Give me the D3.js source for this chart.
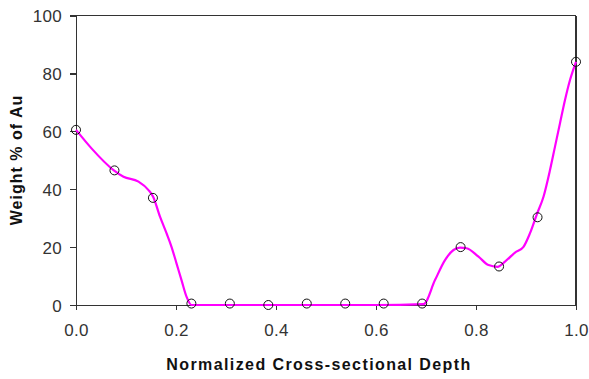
<!DOCTYPE html>
<html>
<head>
<meta charset="utf-8">
<script src="https://cdn.jsdelivr.net/npm/d3@7"></script>
<style>
  html, body { margin: 0; padding: 0; background: #fff; }
  svg { display: block; }
</style>
</head>
<body>
<svg id="chart" width="589" height="379"></svg>
<script>
// Measured composition points (depth is normalized, 14 evenly spaced samples)
const depth = [0, 1/13, 2/13, 3/13, 4/13, 5/13, 6/13, 7/13, 8/13, 9/13, 10/13, 11/13, 12/13, 1];
const weightAu = [60.5, 46.5, 37, 0.5, 0.5, 0, 0.5, 0.5, 0.5, 0.5, 20, 13.3, 30.3, 84];

// Continuous profile trace
const profileDepth = [0, 0.031, 0.075, 0.095, 0.125, 0.145, 0.154, 0.168, 0.181, 0.191, 0.201, 0.211, 0.221, 0.231,
  0.30, 0.40, 0.50, 0.60, 0.695, 0.718, 0.738, 0.755, 0.768, 0.781, 0.805, 0.825, 0.843, 0.858, 0.878, 0.895,
  0.908, 0.922, 0.935, 0.948, 0.958, 0.968, 0.978, 0.988, 1.0];
const profileAu = [60.5, 54.1, 46.6, 44.3, 42.6, 39.7, 37.5, 30.5, 24.8, 20.1, 14.4, 8.6, 2.9, 0,
  0, 0, 0, 0, 0.3, 8.6, 15.5, 19.0, 19.8, 19.6, 16.7, 13.8, 13.2, 15.0, 18.1, 20.1,
  24.8, 31.5, 37.4, 46.6, 54.7, 62.8, 70.8, 77.7, 84.0];

const xTicks = [0, 0.2, 0.4, 0.6, 0.8, 1.0];
const yTicks = [0, 20, 40, 60, 80, 100];

const svg = d3.select("#chart");
const plotLeft = 76, plotRight = 576, plotTop = 15.5, plotBottom = 305;

const x = d3.scaleLinear().domain([0, 1]).range([plotLeft, plotRight]);
const y = d3.scaleLinear().domain([0, 100]).range([plotBottom, plotTop]);

const axisColor = "#333";
const labelFont = "Liberation Sans, Arial, sans-serif";

// Frame: top and right borders
svg.append("line").attr("x1", plotLeft).attr("x2", plotRight).attr("y1", plotTop).attr("y2", plotTop)
  .attr("stroke", axisColor).attr("stroke-width", 1.2).attr("shape-rendering", "crispEdges");
svg.append("line").attr("x1", plotRight).attr("x2", plotRight).attr("y1", plotTop).attr("y2", plotBottom)
  .attr("stroke", axisColor).attr("stroke-width", 1.2).attr("shape-rendering", "crispEdges");

// X axis
const gx = svg.append("g").attr("transform", `translate(0,${plotBottom})`)
  .call(d3.axisBottom(x).tickValues(xTicks).tickFormat(d3.format(".1f")).tickSize(5).tickSizeOuter(0).tickPadding(14));
// Y axis
const gy = svg.append("g").attr("transform", `translate(${plotLeft},0)`)
  .call(d3.axisLeft(y).tickValues(yTicks).tickFormat(d3.format("d")).tickSize(6).tickSizeOuter(0).tickPadding(8));

[gx, gy].forEach(g => {
  g.select(".domain").attr("stroke", axisColor).attr("stroke-width", 1.2).attr("shape-rendering", "crispEdges");
  g.selectAll(".tick line").attr("stroke", axisColor).attr("stroke-width", 1.2).attr("shape-rendering", "crispEdges");
  g.selectAll(".tick text").attr("fill", "#333").attr("font-family", labelFont)
    .attr("font-size", 17).style("letter-spacing", "0.3px");
});
gy.selectAll(".tick text").attr("dy", "0.36em");

// Profile line
const line = d3.line().x((d, i) => x(profileDepth[i])).y(d => y(d)).curve(d3.curveMonotoneX);
svg.append("path").datum(profileAu).attr("d", line)
  .attr("fill", "none").attr("stroke", "#ff00ff").attr("stroke-width", 2.2)
  .attr("stroke-linejoin", "round");

// Measured points
svg.append("g").selectAll("circle").data(weightAu).join("circle")
  .attr("cx", (d, i) => x(depth[i])).attr("cy", d => y(d)).attr("r", 4.5)
  .attr("fill", "none").attr("stroke", "#111").attr("stroke-width", 1);

// Axis titles
svg.append("text").attr("x", 319).attr("y", 370).attr("text-anchor", "middle")
  .attr("font-family", labelFont).attr("font-weight", "bold").attr("font-size", 16)
  .style("letter-spacing", "1.4px").attr("fill", "#111")
  .text("Normalized Cross-sectional Depth");
svg.append("text").attr("transform", "translate(22,160) rotate(-90)").attr("text-anchor", "middle")
  .attr("font-family", labelFont).attr("font-weight", "bold").attr("font-size", 16)
  .style("letter-spacing", "1px").attr("fill", "#111")
  .text("Weight % of Au");
</script>
</body>
</html>
